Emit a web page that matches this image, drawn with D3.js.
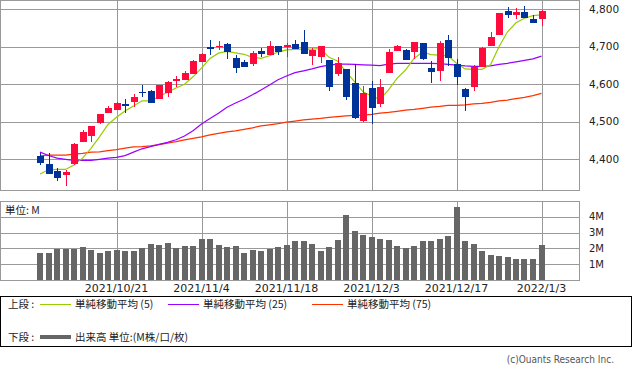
<!DOCTYPE html>
<html>
<head>
<meta charset="utf-8">
<script src="https://cdn.jsdelivr.net/npm/d3@7"></script>
<style>
  body { margin: 0; background: #fff; }
  svg { display: block; }
  .num { font-family: "DejaVu Sans", sans-serif; fill: #222; }
  .jp { font-family: "Noto Sans CJK JP", sans-serif; fill: #222; }
</style>
</head>
<body>
<div id="chart"></div>
<script>
// price data, one entry per trading day
var openP = [4409,4388,4369,4359,4387,4447,4462,4497,4524,4532,
             4547,4554,4580,4582,4561,4576,4610,4612,4628,4660,
             4700,4700,4708,4670,4660,4655,4690,4679,4702,4700,
             4708,4713,4676,4674,4665,4628,4641,4604,4502,4590,
             4548,4631,4690,4692,4687,4710,4644,4636,4718,4653,
             4588,4593,4647,4703,4732,4796,4785,4793,4774,4774];
var highP = [4416,4416,4377,4372,4443,4478,4490,4522,4542,4553,
             4561,4574,4597,4585,4599,4610,4622,4636,4666,4683,
             4718,4715,4709,4678,4665,4689,4697,4716,4703,4709,
             4718,4745,4698,4703,4666,4672,4642,4653,4596,4610,
             4614,4693,4706,4695,4714,4711,4662,4715,4732,4667,
             4589,4652,4700,4740,4791,4806,4804,4809,4786,4797];
var lowP = [4385,4360,4343,4329,4385,4446,4447,4495,4523,4531,
            4524,4539,4565,4550,4560,4567,4594,4611,4627,4659,
            4679,4692,4668,4629,4646,4649,4672,4678,4677,4672,
            4694,4681,4652,4658,4583,4622,4559,4508,4500,4495,
            4540,4630,4689,4665,4668,4665,4604,4610,4650,4598,
            4530,4583,4646,4702,4731,4778,4773,4776,4763,4756];
var closeP = [4391,4362,4351,4366,4441,4473,4489,4521,4537,4550,
              4543,4566,4576,4551,4598,4607,4615,4630,4662,4682,
              4695,4703,4685,4644,4647,4684,4682,4703,4686,4706,
              4695,4682,4692,4702,4593,4657,4567,4511,4577,4538,
              4593,4686,4702,4666,4713,4668,4634,4711,4669,4620,
              4566,4647,4698,4726,4790,4785,4792,4777,4764,4796];

// volume in millions
var volume = [1.71,1.71,1.98,1.98,1.98,2.09,1.90,1.71,1.84,1.90,
              1.84,1.84,2.03,2.28,2.22,2.34,2.03,2.15,2.15,2.59,
              2.59,2.22,2.09,2.15,1.71,1.90,1.84,1.96,2.09,2.22,
              2.47,2.47,2.28,1.84,2.09,2.53,4.11,3.10,2.85,2.72,
              2.59,2.53,2.15,2.03,2.15,2.47,2.47,2.59,2.78,4.62,
              2.47,2.28,1.84,1.58,1.52,1.46,1.33,1.33,1.33,2.22];

// moving averages as drawn
var ma5 = [4361,4372,4373,4373,4385,4403,4429,4460,4493,4512,
           4529,4542,4556,4556,4567,4579,4590,4600,4620,4643,
           4669,4683,4688,4684,4680,4672,4669,4676,4686,4692,
           4693,4694,4694,4695,4672,4662,4634,4607,4580,4569,
           4560,4585,4616,4638,4669,4686,4679,4678,4676,4656,
           4641,4640,4640,4652,4700,4740,4764,4776,4783,4785];
var ma25 = [4419,4410,4403,4400,4397,4397,4397,4400,4403,4405,
            4410,4419,4428,4434,4440,4445,4452,4462,4476,4494,
            4509,4523,4539,4550,4560,4572,4585,4598,4612,4622,
            4631,4636,4641,4647,4651,4654,4654,4653,4652,4651,
            4650,4654,4656,4656,4656,4656,4656,4655,4653,4651,
            4649,4648,4648,4649,4653,4656,4660,4664,4668,4675];
var ma75 = [4409,4411,4411,4411,4414,4416,4419,4420,4423,4426,
            4430,4433,4434,4436,4439,4443,4447,4452,4456,4460,
            4465,4469,4473,4476,4480,4484,4489,4492,4495,4499,
            4502,4505,4507,4509,4512,4514,4516,4517,4518,4520,
            4523,4525,4528,4531,4533,4536,4539,4541,4544,4544,
            4545,4548,4549,4552,4556,4558,4562,4565,4570,4576];

var tickIdx = [9, 19, 29, 39, 49, 59];
var tickLabels = ["2021/10/21", "2021/11/4", "2021/11/18", "2021/12/3", "2021/12/17", "2022/1/3"];
var priceTicks = [4400, 4500, 4600, 4700, 4800];
var volTicks = [1, 2, 3, 4];

var width = 633,
    height = 374;

var config = {
    left: 0, right: 579,
    priceTop: 0, priceBottom: 190,
    volTop: 201, volBottom: 280,
    grid: "#999",
    up: "#ff0a3c",
    down: "#003399",
    volColor: "#666"
};

var svg = d3.select("#chart").append("svg")
    .attr("width", width)
    .attr("height", height);

var x = d3.scaleLinear().domain([0, 59]).range([40, 541.5]);
var y = d3.scaleLinear().domain([4400, 4800]).range([159.3, 9.3]);
var yv = d3.scaleLinear().domain([0, 5]).range([config.volBottom, config.volTop]);

var px = function(v){ return Math.round(v) + 0.5; };

// ---- price panel
var g = svg.append("g").attr("shape-rendering", "crispEdges");

g.selectAll(".hgrid").data(priceTicks).enter().append("line")
    .attr("x1", config.left).attr("x2", config.right)
    .attr("y1", d => px(y(d))).attr("y2", d => px(y(d)))
    .attr("stroke", config.grid);

g.selectAll(".vgrid").data(tickIdx).enter().append("line")
    .attr("x1", d => px(x(d))).attr("x2", d => px(x(d)))
    .attr("y1", config.priceTop).attr("y2", config.priceBottom)
    .attr("stroke", config.grid);

g.append("rect")
    .attr("x", 0.5).attr("y", 0.5)
    .attr("width", config.right - 0.5).attr("height", config.priceBottom)
    .attr("fill", "none").attr("stroke", config.grid);

// moving averages
var lines = [[ma75, "#ff3300"], [ma25, "#9900ff"], [ma5, "#99cc00"]];
lines.forEach(function(l){
    svg.append("path")
        .datum(l[0])
        .attr("d", d3.line().x((d, i) => x(i)).y(d => y(d)))
        .attr("fill", "none")
        .attr("stroke", l[1])
        .attr("stroke-width", 1.2);
});

// candles
var idx = d3.range(openP.length);
var candle = svg.append("g").attr("shape-rendering", "crispEdges")
    .selectAll("g").data(idx).enter().append("g");

candle.append("line")
    .attr("x1", i => px(x(i))).attr("x2", i => px(x(i)))
    .attr("y1", i => y(highP[i])).attr("y2", i => y(lowP[i]))
    .attr("stroke", i => closeP[i] >= openP[i] ? config.up : config.down);

candle.append("rect")
    .attr("x", i => Math.round(x(i)) - 3)
    .attr("width", 7)
    .attr("y", i => y(Math.max(openP[i], closeP[i])))
    .attr("height", i => Math.max(1.5, Math.abs(y(openP[i]) - y(closeP[i]))))
    .attr("fill", i => closeP[i] >= openP[i] ? config.up : config.down);

svg.selectAll(".plab").data(priceTicks).enter().append("text")
    .attr("class", "num")
    .attr("x", 589).attr("y", d => y(d))
    .attr("dy", "0.35em")
    .style("font-size", "10.5px")
    .text(d => d3.format(",")(d));

// ---- volume panel
var gv = svg.append("g").attr("shape-rendering", "crispEdges");

gv.selectAll(".hgrid").data(volTicks).enter().append("line")
    .attr("x1", config.left).attr("x2", config.right)
    .attr("y1", d => px(yv(d))).attr("y2", d => px(yv(d)))
    .attr("stroke", config.grid);

gv.selectAll(".vgrid").data(tickIdx).enter().append("line")
    .attr("x1", d => px(x(d))).attr("x2", d => px(x(d)))
    .attr("y1", config.volTop).attr("y2", config.volBottom)
    .attr("stroke", config.grid);

gv.selectAll(".vbar").data(idx).enter().append("rect")
    .attr("x", i => Math.round(x(i)) - 3)
    .attr("width", 6)
    .attr("y", i => yv(volume[i]))
    .attr("height", i => yv(0) - yv(volume[i]))
    .attr("fill", config.volColor);

gv.append("rect")
    .attr("x", 0.5).attr("y", config.volTop + 0.5)
    .attr("width", config.right - 0.5).attr("height", config.volBottom - config.volTop)
    .attr("fill", "none").attr("stroke", config.grid);

svg.append("text").attr("class", "jp")
    .attr("x", 5).attr("y", 210).attr("dy", "0.35em")
    .style("font-size", "10.5px")
    .text("単位: M");

svg.selectAll(".vlab").data(volTicks).enter().append("text")
    .attr("class", "num")
    .attr("x", 589).attr("y", d => yv(d))
    .attr("dy", "0.35em")
    .style("font-size", "10px")
    .text(d => d + "M");

svg.selectAll(".dlab").data(tickIdx).enter().append("text")
    .attr("class", "num")
    .attr("x", d => x(d)).attr("y", 288)
    .attr("dy", "0.35em")
    .attr("text-anchor", "middle")
    .style("font-size", "11px")
    .text((d, i) => tickLabels[i]);

// ---- legend
var leg = svg.append("g");
leg.append("rect")
    .attr("x", 0.5).attr("y", 296.5)
    .attr("width", 631).attr("height", 50)
    .attr("fill", "none").attr("stroke", "#000")
    .attr("shape-rendering", "crispEdges");

var legItems = [
    {x: 40, label: "単純移動平均 (5)", color: "#99cc00"},
    {x: 168, label: "単純移動平均 (25)", color: "#9900ff"},
    {x: 312, label: "単純移動平均 (75)", color: "#ff3300"}
];

leg.append("text").attr("class", "jp")
    .attr("x", 8).attr("y", 304).attr("dy", "0.35em")
    .style("font-size", "10.5px").text("上段 :");

legItems.forEach(function(d){
    leg.append("line")
        .attr("x1", d.x).attr("x2", d.x + 31)
        .attr("y1", 304.5).attr("y2", 304.5)
        .attr("stroke", d.color);
    leg.append("text").attr("class", "jp")
        .attr("x", d.x + 35).attr("y", 304).attr("dy", "0.35em")
        .style("font-size", "10.5px").text(d.label);
});

leg.append("text").attr("class", "jp")
    .attr("x", 8).attr("y", 337).attr("dy", "0.35em")
    .style("font-size", "10.5px").text("下段 :");
leg.append("line")
    .attr("x1", 40).attr("x2", 71)
    .attr("y1", 337).attr("y2", 337)
    .attr("stroke", config.volColor).attr("stroke-width", 4);
leg.append("text").attr("class", "jp")
    .attr("x", 75).attr("y", 337).attr("dy", "0.35em")
    .style("font-size", "10.5px").text("出来高 単位:(M株/口/枚)");

svg.append("text")
    .attr("x", 614).attr("y", 359).attr("dy", "0.35em")
    .attr("text-anchor", "end")
    .style("font-family", "'DejaVu Sans Condensed', 'DejaVu Sans', sans-serif")
    .style("font-size", "10px")
    .style("fill", "#555")
    .text("(c)Ouants Research Inc.");
</script>
</body>
</html>
